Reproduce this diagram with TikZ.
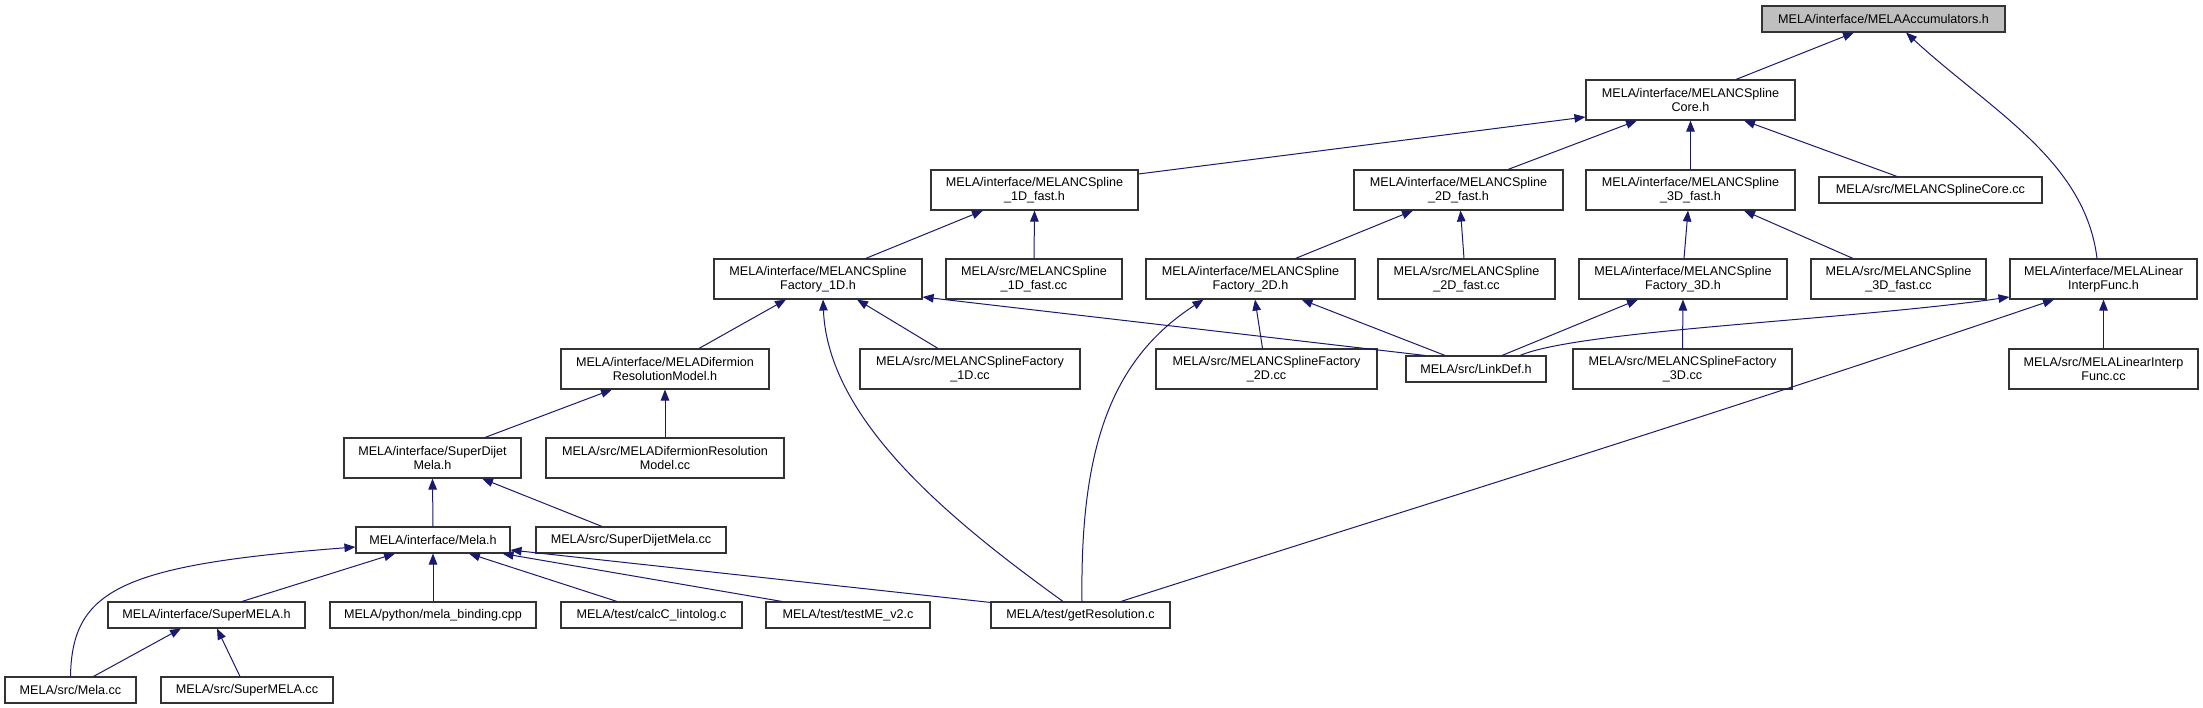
\documentclass[tikz,border=0pt]{standalone}
\usepackage{fontspec}
\setmainfont{Liberation Sans}
\usetikzlibrary{arrows.meta,calc}
\definecolor{edgeblue}{HTML}{191970}
\definecolor{nodegray}{HTML}{BFBFBF}
\definecolor{boxline}{HTML}{333333}
\begin{document}
\begin{tikzpicture}[x=1pt,y=-1pt,
  box/.style={draw=boxline,line width=1.1pt,rectangle,inner sep=0pt,align=center,
    font=\fontsize{12.6}{14.3}\selectfont,fill=white},
  twoline/.style={minimum height=40pt},
  oneline/.style={minimum height=26pt},
  edge/.style={draw=edgeblue,line width=1pt,-{Triangle[length=11pt,width=8.5pt]}}]
\useasboundingbox (0,0) rectangle (2203,708);
% row 0
\node[box,oneline,fill=nodegray,minimum width=243pt] (Accum) at (1883.5,19) {MELA/interface/MELAAccumulators.h};
% row 1
\node[box,twoline,minimum width=209pt] (Core) at (1690.5,100) {MELA/interface/MELANCSpline\\Core.h};
% row 2
\node[box,twoline,minimum width=207pt] (F1) at (1034.5,190) {MELA/interface/MELANCSpline\\\_1D\_fast.h};
\node[box,twoline,minimum width=209pt] (F2) at (1458.5,190) {MELA/interface/MELANCSpline\\\_2D\_fast.h};
\node[box,twoline,minimum width=209pt] (F3) at (1690.5,190) {MELA/interface/MELANCSpline\\\_3D\_fast.h};
\node[box,oneline,minimum width=223pt] (CoreCC) at (1930.5,190) {MELA/src/MELANCSplineCore.cc};
% row 3
\node[box,twoline,minimum width=208pt] (Fac1) at (818,279) {MELA/interface/MELANCSpline\\Factory\_1D.h};
\node[box,twoline,minimum width=176pt] (F1cc) at (1034,279) {MELA/src/MELANCSpline\\\_1D\_fast.cc};
\node[box,twoline,minimum width=209pt] (Fac2) at (1250.5,279) {MELA/interface/MELANCSpline\\Factory\_2D.h};
\node[box,twoline,minimum width=177pt] (F2cc) at (1466.5,279) {MELA/src/MELANCSpline\\\_2D\_fast.cc};
\node[box,twoline,minimum width=208pt] (Fac3) at (1683,279) {MELA/interface/MELANCSpline\\Factory\_3D.h};
\node[box,twoline,minimum width=175pt] (F3cc) at (1898.5,279) {MELA/src/MELANCSpline\\\_3D\_fast.cc};
\node[box,twoline,minimum width=187pt] (Lin) at (2103.5,279) {MELA/interface/MELALinear\\InterpFunc.h};
% row 4
\node[box,twoline,minimum width=208pt] (Dif) at (665,369) {MELA/interface/MELADifermion\\ResolutionModel.h};
\node[box,twoline,minimum width=220pt] (Fac1cc) at (970,369) {MELA/src/MELANCSplineFactory\\\_1D.cc};
\node[box,twoline,minimum width=221pt] (Fac2cc) at (1266.5,369) {MELA/src/MELANCSplineFactory\\\_2D.cc};
\node[box,oneline,minimum width=140pt] (LinkDef) at (1476,369) {MELA/src/LinkDef.h};
\node[box,twoline,minimum width=219pt] (Fac3cc) at (1682.5,369) {MELA/src/MELANCSplineFactory\\\_3D.cc};
\node[box,twoline,minimum width=189pt] (LinCC) at (2103.5,369) {MELA/src/MELALinearInterp\\Func.cc};
% row 5
\node[box,twoline,minimum width=177pt] (SDij) at (432.5,458) {MELA/interface/SuperDijet\\Mela.h};
\node[box,twoline,minimum width=238pt] (DifCC) at (665,458) {MELA/src/MELADifermionResolution\\Model.cc};
% row 6
\node[box,oneline,minimum width=154pt] (Mela) at (433,540) {MELA/interface/Mela.h};
\node[box,oneline,minimum width=190pt] (SDijCC) at (631,540) {MELA/src/SuperDijetMela.cc};
% row 7
\node[box,oneline,minimum width=197pt] (SuperMELA) at (206.5,615) {MELA/interface/SuperMELA.h};
\node[box,oneline,minimum width=206pt] (binding) at (433,615) {MELA/python/mela\_binding.cpp};
\node[box,oneline,minimum width=181pt] (calcC) at (651.5,615) {MELA/test/calcC\_lintolog.c};
\node[box,oneline,minimum width=164pt] (testME) at (848,615) {MELA/test/testME\_v2.c};
\node[box,oneline,minimum width=179pt] (getRes) at (1080.5,615) {MELA/test/getResolution.c};
% row 8
\node[box,oneline,minimum width=131pt] (MelaCC) at (70.5,690) {MELA/src/Mela.cc};
\node[box,oneline,minimum width=172pt] (SuperMELAcc) at (247,690) {MELA/src/SuperMELA.cc};
% edges
\draw[edge] ($(Core.north)+(45.5,0)$) -- ($(Accum.south)+(-29.5,0)$);
\draw[edge] ($(Lin.north)+(-6.5,0)$) .. controls (2085,160) and (1990,110) .. ($(Accum.south)+(22.5,0)$);
\draw[edge] ($(F1.east)+(0,-16)$) -- ($(Core.west)+(0,17)$);
\draw[edge] ($(F2.north)+(49.5,0)$) -- ($(Core.south)+(-53.5,0)$);
\draw[edge] (F3.north) -- (Core.south);
\draw[edge] ($(CoreCC.north)+(-33.5,0)$) -- ($(Core.south)+(53.5,0)$);
\draw[edge] ($(Fac1.north)+(47.7,0)$) -- ($(F1.south)+(-51.5,0)$);
\draw[edge] (F1cc.north) -- (F1.south);
\draw[edge] ($(Fac2.north)+(45,0)$) -- ($(F2.south)+(-45.5,0)$);
\draw[edge] ($(F2cc.north)+(-2.5,0)$) -- ($(F2.south)+(2,0)$);
\draw[edge] ($(Fac3.north)+(1,0)$) -- ($(F3.south)+(-2.5,0)$);
\draw[edge] ($(F3cc.north)+(-45.5,0)$) -- ($(F3.south)+(53.5,0)$);
\draw[edge] ($(Dif.north)+(34,0)$) -- ($(Fac1.south)+(-32,0)$);
\draw[edge] ($(Fac1cc.north)+(-32,0)$) -- ($(Fac1.south)+(39,0)$);
\draw[edge] ($(LinkDef.north)+(-51,0)$) -- ($(Fac1.east)+(0,18)$);
\draw[edge] ($(getRes.north)+(-17.5,0)$) .. controls (950,520) and (828,420) .. ($(Fac1.south)+(5,0)$);
\draw[edge] ($(Fac2cc.north)+(-4,0)$) -- ($(Fac2.south)+(4.5,0)$);
\draw[edge] ($(LinkDef.north)+(-31,0)$) -- ($(Fac2.south)+(51,0)$);
\draw[edge] ($(getRes.north)+(1.5,0)$) .. controls (1080,450) and (1110,360) .. ($(Fac2.south)+(-47,0)$);
\draw[edge] ($(LinkDef.north)+(26,0)$) -- ($(Fac3.south)+(-45,0)$);
\draw[edge] (Fac3cc.north) -- (Fac3.south);
\draw[edge] ($(LinkDef.north)+(44,0)$) .. controls (1580,330) and (1850,320) .. ($(Lin.west)+(0,18)$);
\draw[edge] ($(getRes.north)+(40.5,0)$) .. controls (1400,512) and (1700,420) .. ($(Lin.south)+(-49.5,0)$);
\draw[edge] (LinCC.north) -- (Lin.south);
\draw[edge] ($(SDij.north)+(52.5,0)$) -- ($(Dif.south)+(-53,0)$);
\draw[edge] (DifCC.north) -- (Dif.south);
\draw[edge] (Mela.north) -- (SDij.south);
\draw[edge] ($(SDijCC.north)+(-29,0)$) -- ($(SDij.south)+(49.5,0)$);
\draw[edge] ($(SuperMELA.north)+(35.5,0)$) -- ($(Mela.south)+(-38,0)$);
\draw[edge] (binding.north) -- (Mela.south);
\draw[edge] ($(calcC.north)+(-34.5,0)$) -- ($(Mela.south)+(36,0)$);
\draw[edge] ($(testME.north)+(-66,0)$) -- ($(Mela.south)+(69.5,0)$);
\draw[edge] ($(getRes.north west)+(0,1)$) -- ($(Mela.east)+(0,10)$);
\draw[edge] (MelaCC.north) .. controls (72,590) and (120,565) .. ($(Mela.west)+(0,7)$);
\draw[edge] ($(MelaCC.north)+(23,0)$) -- ($(SuperMELA.south)+(-25.5,0)$);
\draw[edge] ($(SuperMELAcc.north)+(-7,0)$) -- ($(SuperMELA.south)+(10.5,0)$);
\end{tikzpicture}
\end{document}
